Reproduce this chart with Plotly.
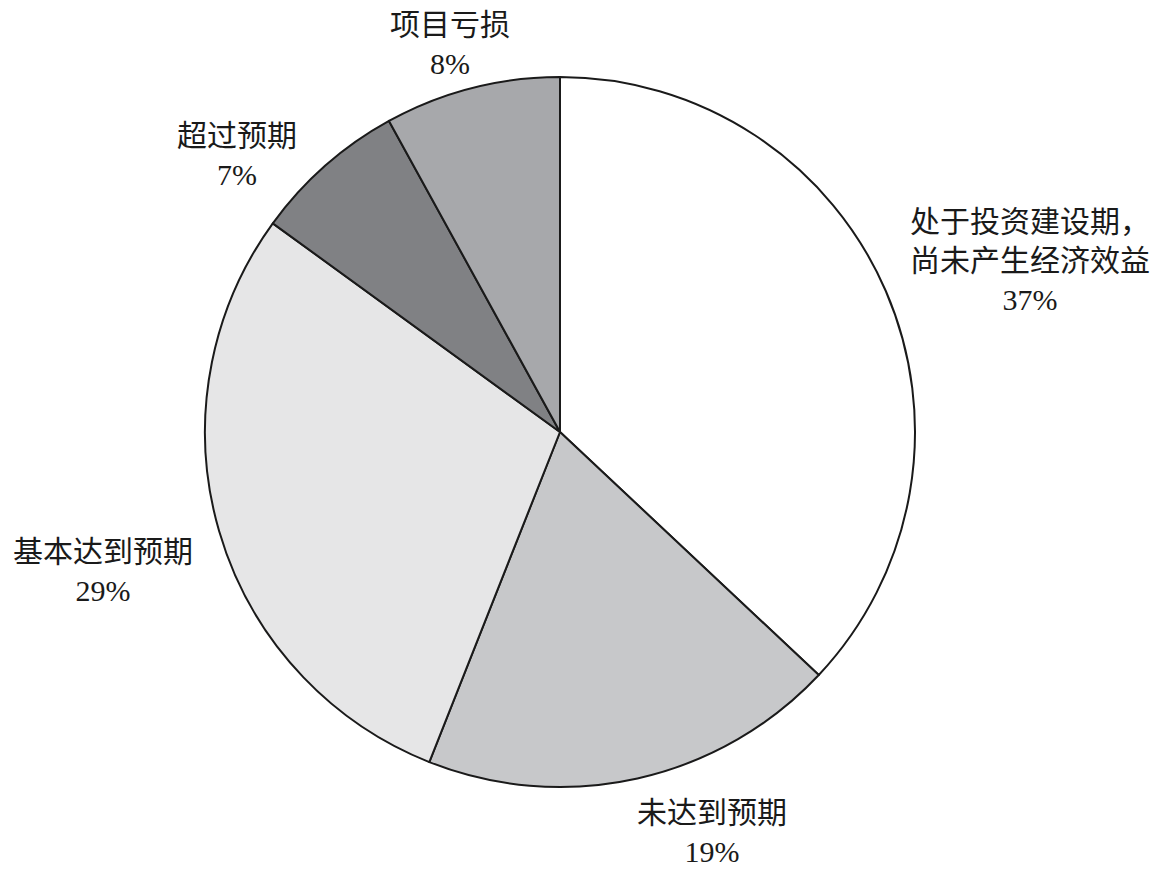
import plotly.graph_objects as go

labels = ["处于投资建设期，<br>尚未产生经济效益", "未达到预期", "基本达到预期", "超过预期", "项目亏损"]
values = [37, 19, 29, 7, 8]
colors = ["#ffffff", "#c7c8ca", "#e6e6e7", "#808184", "#a7a8ab"]

# label anchor positions (pixels in the 1167x869 window)
label_pos = [(1030, 260), (712, 832), (103, 571), (237, 155), (450, 44)]

W, H = 1167, 869
OFF = 8  # page body margin
cx, cy, r = 560 - OFF, 432 - OFF, 355

fig = go.Figure(go.Pie(
    labels=labels,
    values=values,
    sort=False,
    direction="clockwise",
    rotation=0,
    marker=dict(colors=colors, line=dict(color="#1a1a1a", width=2)),
    textinfo="none",
    hoverinfo="label+percent",
    showlegend=False,
    domain=dict(x=[(cx - r) / W, (cx + r) / W], y=[(H - cy - r) / H, (H - cy + r) / H]),
))

font = dict(family="Liberation Serif, Noto Sans CJK SC, serif", size=30, color="#1a1a1a")
for lab, val, (px, py) in zip(labels, values, label_pos):
    fig.add_annotation(
        x=(px - OFF) / W, y=1 - (py - OFF) / H, xref="paper", yref="paper",
        text=f"{lab}<br>{val}%", showarrow=False, font=font,
        xanchor="center", yanchor="middle", align="center",
    )

fig.update_layout(
    width=W, height=H,
    margin=dict(l=0, r=0, t=0, b=0),
    paper_bgcolor="white", plot_bgcolor="white",
)
fig.write_html("out.html")
